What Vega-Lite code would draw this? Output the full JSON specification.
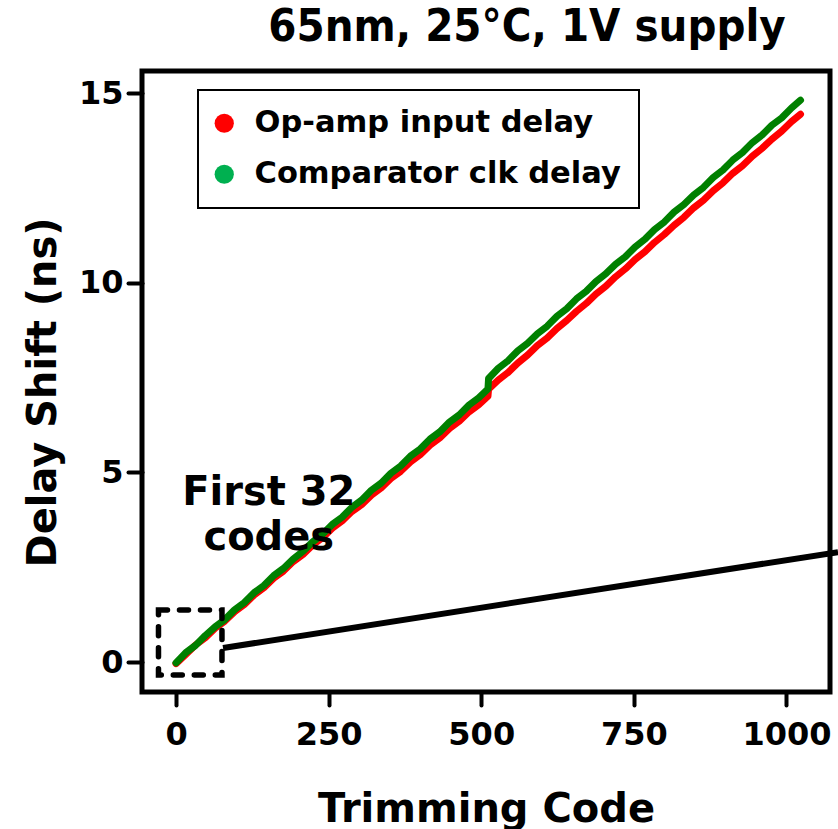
{
  "$schema": "https://vega.github.io/schema/vega-lite/v6.json",
  "width": 688,
  "height": 621,
  "autosize": {"type": "none"},
  "padding": {"left": 142, "top": 71, "right": 8, "bottom": 137},
  "background": "white",
  "title": {"text": "65nm, 25°C, 1V supply", "font": "DejaVu Sans Condensed", "fontWeight": "bold", "fontSize": 45, "anchor": "middle", "dx": 41, "offset": 21, "color": "black"},
  "config": {
    "view": {"stroke": "black", "strokeWidth": 5},
    "axis": {"domain": false, "grid": false, "tickColor": "black", "tickWidth": 4, "tickCap": "round", "labelFont": "DejaVu Sans", "labelFontWeight": "bold", "labelFontSize": 32, "labelColor": "black", "titleFont": "DejaVu Sans", "titleFontWeight": "bold", "titleFontSize": 40, "titleColor": "black"},
    "legend": {"strokeWidth": 2}
  },
  "datasets": {
    "curves": [
      {"code": 0, "opamp": -0.04, "comp": -0.02},
      {"code": 16, "opamp": 0.20, "comp": 0.25},
      {"code": 32, "opamp": 0.45, "comp": 0.44},
      {"code": 48, "opamp": 0.64, "comp": 0.70},
      {"code": 64, "opamp": 0.89, "comp": 0.93},
      {"code": 80, "opamp": 1.08, "comp": 1.12},
      {"code": 96, "opamp": 1.33, "comp": 1.38},
      {"code": 112, "opamp": 1.52, "comp": 1.57},
      {"code": 128, "opamp": 1.77, "comp": 1.83},
      {"code": 144, "opamp": 1.96, "comp": 2.02},
      {"code": 160, "opamp": 2.21, "comp": 2.28},
      {"code": 176, "opamp": 2.40, "comp": 2.47},
      {"code": 192, "opamp": 2.65, "comp": 2.72},
      {"code": 208, "opamp": 2.84, "comp": 2.92},
      {"code": 224, "opamp": 3.09, "comp": 3.17},
      {"code": 240, "opamp": 3.28, "comp": 3.37},
      {"code": 256, "opamp": 3.53, "comp": 3.63},
      {"code": 272, "opamp": 3.72, "comp": 3.82},
      {"code": 288, "opamp": 3.97, "comp": 4.08},
      {"code": 304, "opamp": 4.15, "comp": 4.27},
      {"code": 320, "opamp": 4.40, "comp": 4.53},
      {"code": 336, "opamp": 4.59, "comp": 4.72},
      {"code": 352, "opamp": 4.84, "comp": 4.98},
      {"code": 368, "opamp": 5.03, "comp": 5.17},
      {"code": 384, "opamp": 5.28, "comp": 5.43},
      {"code": 400, "opamp": 5.47, "comp": 5.62},
      {"code": 416, "opamp": 5.72, "comp": 5.88},
      {"code": 432, "opamp": 5.91, "comp": 6.07},
      {"code": 448, "opamp": 6.16, "comp": 6.33},
      {"code": 464, "opamp": 6.35, "comp": 6.52},
      {"code": 480, "opamp": 6.60, "comp": 6.78},
      {"code": 496, "opamp": 6.79, "comp": 6.97},
      {"code": 511, "opamp": 7.01, "comp": 7.20},
      {"code": 512, "opamp": 7.20, "comp": 7.48},
      {"code": 528, "opamp": 7.44, "comp": 7.75},
      {"code": 544, "opamp": 7.64, "comp": 7.95},
      {"code": 560, "opamp": 7.89, "comp": 8.21},
      {"code": 576, "opamp": 8.10, "comp": 8.41},
      {"code": 592, "opamp": 8.35, "comp": 8.66},
      {"code": 608, "opamp": 8.55, "comp": 8.86},
      {"code": 624, "opamp": 8.80, "comp": 9.12},
      {"code": 640, "opamp": 9.01, "comp": 9.32},
      {"code": 656, "opamp": 9.25, "comp": 9.58},
      {"code": 672, "opamp": 9.46, "comp": 9.78},
      {"code": 688, "opamp": 9.71, "comp": 10.04},
      {"code": 704, "opamp": 9.91, "comp": 10.24},
      {"code": 720, "opamp": 10.16, "comp": 10.49},
      {"code": 736, "opamp": 10.37, "comp": 10.69},
      {"code": 752, "opamp": 10.62, "comp": 10.95},
      {"code": 768, "opamp": 10.82, "comp": 11.15},
      {"code": 784, "opamp": 11.07, "comp": 11.41},
      {"code": 800, "opamp": 11.28, "comp": 11.61},
      {"code": 816, "opamp": 11.52, "comp": 11.87},
      {"code": 832, "opamp": 11.73, "comp": 12.07},
      {"code": 848, "opamp": 11.98, "comp": 12.32},
      {"code": 864, "opamp": 12.18, "comp": 12.52},
      {"code": 880, "opamp": 12.43, "comp": 12.78},
      {"code": 896, "opamp": 12.64, "comp": 12.98},
      {"code": 912, "opamp": 12.89, "comp": 13.24},
      {"code": 928, "opamp": 13.09, "comp": 13.44},
      {"code": 944, "opamp": 13.34, "comp": 13.70},
      {"code": 960, "opamp": 13.55, "comp": 13.90},
      {"code": 976, "opamp": 13.79, "comp": 14.16},
      {"code": 992, "opamp": 14.00, "comp": 14.35},
      {"code": 1008, "opamp": 14.25, "comp": 14.61},
      {"code": 1023, "opamp": 14.45, "comp": 14.82}
    ],
    "box": [{"code": -28.7, "code2": 75.3, "delay": -0.34, "delay2": 1.37}],
    "zoomline": [{"code": 77, "code2": 1084.4, "delay": 0.37, "delay2": 2.90}],
    "note": [
      {"code": 152, "delay": 4.14, "label": "First 32"},
      {"code": 152, "delay": 2.96, "label": "codes"}
    ]
  },
  "layer": [
    {
      "data": {"name": "curves"},
      "mark": {"type": "line", "color": "#ff0000", "strokeWidth": 7, "strokeJoin": "round", "strokeCap": "round"},
      "encoding": {
        "x": {"field": "code", "type": "quantitative", "scale": {"domain": [-55.7, 1071.3], "nice": false, "zero": false},
              "axis": {"values": [0, 250, 500, 750, 1000], "format": "d", "title": "Trimming Code", "tickSize": 13, "labelPadding": 14, "titleY": 129, "titleBaseline": "alphabetic"}},
        "y": {"field": "opamp", "type": "quantitative", "scale": {"domain": [-0.79, 15.59], "nice": false, "zero": false},
              "axis": {"values": [0, 5, 10, 15], "title": "Delay Shift (ns)", "tickSize": 14, "labelPadding": 5, "titleX": -87, "titleY": 321, "titleBaseline": "alphabetic"}}
      }
    },
    {
      "data": {"name": "curves"},
      "mark": {"type": "line", "color": "#008000", "strokeWidth": 7, "strokeJoin": "round", "strokeCap": "round"},
      "encoding": {
        "x": {"field": "code", "type": "quantitative"},
        "y": {"field": "comp", "type": "quantitative"}
      }
    },
    {
      "data": {"name": "curves"},
      "transform": [{"fold": ["Op-amp input delay", "Comparator clk delay"], "as": ["series", "value"]}],
      "mark": {"type": "point", "filled": true, "size": 0, "opacity": 1},
      "encoding": {
        "x": {"field": "code", "type": "quantitative"},
        "y": {"field": "value", "type": "quantitative"},
        "fill": {"field": "series", "type": "nominal",
                 "scale": {"domain": ["Op-amp input delay", "Comparator clk delay"], "range": ["#ff0000", "#00b050"]},
                 "legend": {"title": null, "orient": "none", "legendX": 56, "legendY": 19, "symbolType": "circle", "symbolSize": 370, "symbolStrokeWidth": 0, "symbolOpacity": 1, "symbolOffset": -7,
                            "labelFont": "DejaVu Sans", "labelFontWeight": "bold", "labelFontSize": 30.5, "labelColor": "black", "labelOffset": 15, "labelLimit": 600,
                            "padding": 18, "rowPadding": 20, "strokeColor": "black"}}
      }
    },
    {
      "data": {"name": "box"},
      "mark": {"type": "rect", "filled": false, "stroke": "black", "strokeWidth": 5.5, "strokeDash": [9, 12], "strokeCap": "round"},
      "encoding": {
        "x": {"field": "code", "type": "quantitative"},
        "x2": {"field": "code2"},
        "y": {"field": "delay", "type": "quantitative"},
        "y2": {"field": "delay2"}
      }
    },
    {
      "data": {"name": "zoomline"},
      "mark": {"type": "rule", "color": "black", "strokeWidth": 6},
      "encoding": {
        "x": {"field": "code", "type": "quantitative"},
        "x2": {"field": "code2"},
        "y": {"field": "delay", "type": "quantitative"},
        "y2": {"field": "delay2"}
      }
    },
    {
      "data": {"name": "note"},
      "mark": {"type": "text", "font": "DejaVu Sans", "fontWeight": "bold", "fontSize": 40, "align": "center", "baseline": "alphabetic", "color": "black"},
      "encoding": {
        "x": {"field": "code", "type": "quantitative"},
        "y": {"field": "delay", "type": "quantitative"},
        "text": {"field": "label"}
      }
    }
  ]
}
